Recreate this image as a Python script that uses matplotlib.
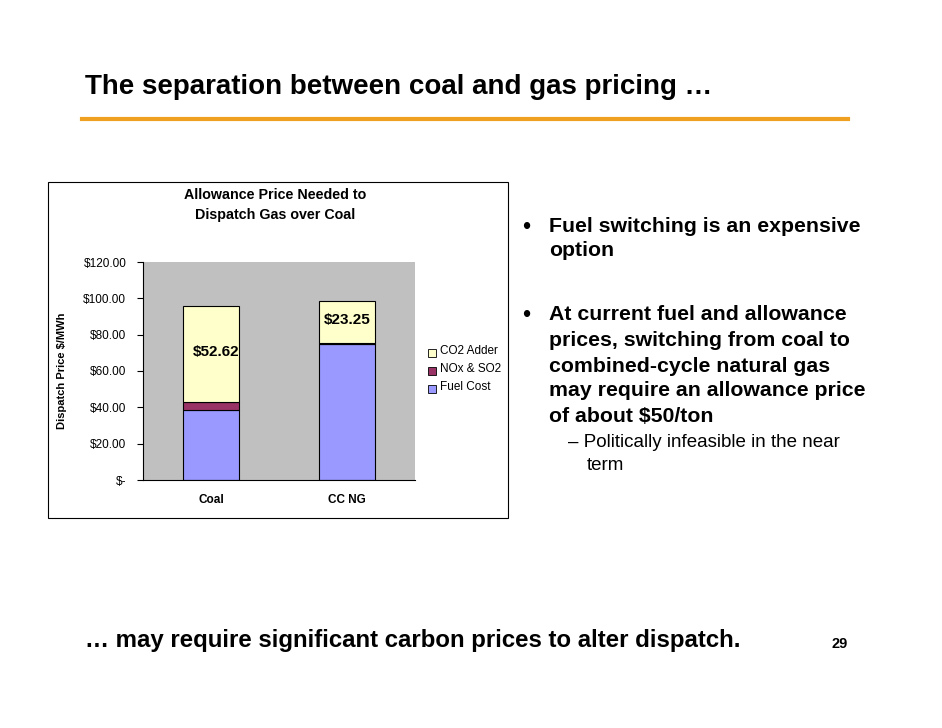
import matplotlib
matplotlib.use("Agg")
import matplotlib.pyplot as plt
from matplotlib.patches import Rectangle
from matplotlib.lines import Line2D

categories = ["Coal", "CC NG"]
fuel_cost = [38.8, 74.8]
nox_so2 = [4.4, 0.5]
co2_adder = [52.62, 23.25]
co2_labels = ["$52.62", "$23.25"]
ytick_vals = [0, 20, 40, 60, 80, 100, 120]
ytick_labels = ["$-", "$20.00", "$40.00", "$60.00", "$80.00", "$100.00", "$120.00"]

W, H = 942, 728
fig = plt.figure(figsize=(W/100, H/100), dpi=100)
fig.patch.set_facecolor("white")
F = "Liberation Sans"

def fx(x): return x / W
def fy(y): return 1 - y / H

fig.text(fx(85), fy(87), "The separation between coal and gas pricing …", fontsize=20,
         fontweight="bold", family=F, va="center")
fig.add_artist(Line2D([fx(82), fx(848)], [fy(119), fy(119)], color="#f0a020", lw=3))

fig.add_artist(Rectangle((fx(48), fy(518)), fx(508)-fx(48), fy(182)-fy(518),
                         transform=fig.transFigure, fill=False, ec="black", lw=0.8))

ax = fig.add_axes([fx(143), fy(480), fx(415)-fx(143), fy(262)-fy(480)])
ax.set_facecolor("#c0c0c0")
x = [0, 1]
w = 0.41
ax.bar(x, fuel_cost, w, color="#9999ff", edgecolor="black", lw=0.8)
ax.bar(x, nox_so2, w, bottom=fuel_cost, color="#993366", edgecolor="black", lw=0.8)
b2 = [f + n for f, n in zip(fuel_cost, nox_so2)]
ax.bar(x, co2_adder, w, bottom=b2, color="#ffffcc", edgecolor="black", lw=0.8)
for i, lab in enumerate(co2_labels):
    ypos = b2[i] + co2_adder[i] * (0.52 if i == 0 else 0.55)
    ax.text(x[i] + (0.04 if i == 0 else 0.0), ypos, lab, ha="center", va="center",
            fontsize=11, fontweight="bold", family=F)
ax.set_xlim(-0.5, 1.5)
ax.set_ylim(0, 120)
ax.set_yticks(ytick_vals)
ax.set_yticklabels(ytick_labels, fontsize=8.5, family=F)
ax.set_xticks(x)
ax.set_xticklabels(categories, fontsize=8.5, fontweight="bold", family=F)
ax.tick_params(axis="x", length=0, pad=10)
ax.tick_params(axis="y", length=4, pad=8)
for s in ["top", "right"]:
    ax.spines[s].set_visible(False)
ax.set_ylabel("Dispatch Price $/MWh", fontsize=8, fontweight="bold", family=F)
ax.yaxis.set_label_coords((fx(67) - fx(143)) / (fx(415) - fx(143)), 0.5)

fig.text(fx(275), fy(205), "Allowance Price Needed to\nDispatch Gas over Coal", ha="center",
         va="center", fontsize=10.3, fontweight="bold", family=F, linespacing=1.5)

leg = [("CO2 Adder", "#ffffcc"), ("NOx & SO2", "#993366"), ("Fuel Cost", "#9999ff")]
for i, (lab, c) in enumerate(leg):
    y = 351 + i * 18
    fig.add_artist(Rectangle((fx(428), fy(y+6)), fx(8), fy(0)-fy(8),
                             transform=fig.transFigure, fc=c, ec="black", lw=0.6))
    fig.text(fx(440), fy(y), lab, fontsize=8.5, family=F, va="center")

bul = [(226, "Fuel switching is an expensive"), (250, "option"),
       (314, "At current fuel and allowance"), (340, "prices, switching from coal to"),
       (366, "combined-cycle natural gas"), (390, "may require an allowance price"),
       (416, "of about $50/ton")]
for y, t in bul:
    fig.text(fx(549), fy(y), t, fontsize=15.3, fontweight="bold", family=F, va="center")
fig.text(fx(522), fy(228), "•", fontsize=17, family=F, va="center")
fig.text(fx(522), fy(316), "•", fontsize=17, family=F, va="center")
fig.text(fx(568), fy(443), "– Politically infeasible in the near", fontsize=13.5, family=F, va="center")
fig.text(fx(587), fy(466), "term", fontsize=13.5, family=F, va="center")

fig.text(fx(85), fy(640), "… may require significant carbon prices to alter dispatch.",
         fontsize=17.3, fontweight="bold", family=F, va="center")
fig.text(fx(848), fy(644), "29", fontsize=10.5, fontweight="bold", family=F, va="center", ha="right")

fig.savefig("out.png", dpi=100)
